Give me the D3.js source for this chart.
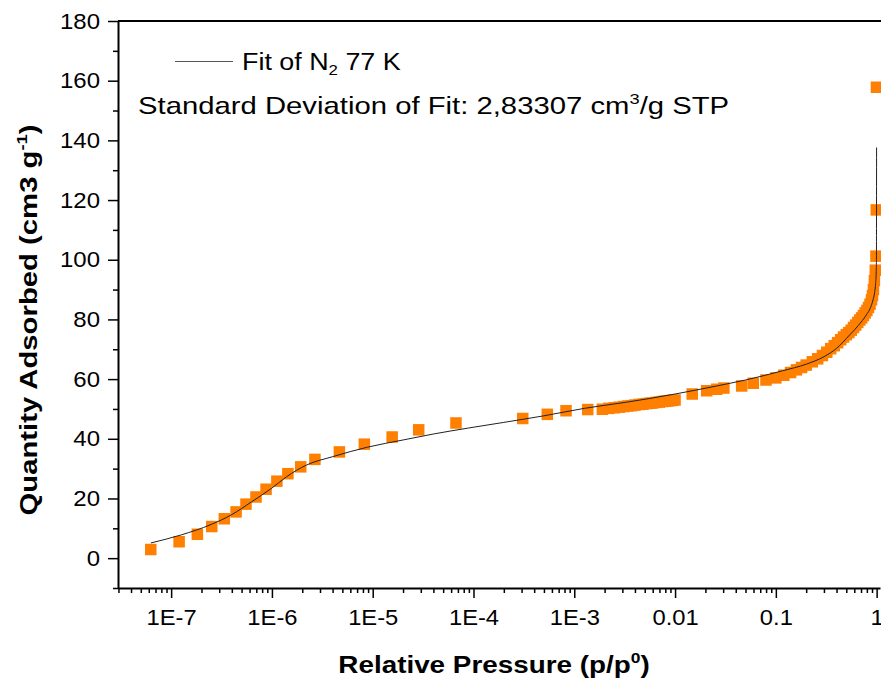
<!DOCTYPE html>
<html>
<head>
<meta charset="utf-8">
<script src="https://cdn.jsdelivr.net/npm/d3@7"></script>
<style>
  body { margin: 0; background: #fff; }
  svg { display: block; font-family: "Liberation Sans", Arial, sans-serif; }
</style>
</head>
<body>
<div id="chart"></div>
<script>
// N2 77 K isotherm with fit, log pressure axis

const width = 881,
    height = 680;

// measured points (relative pressure, quantity adsorbed)
const pressure = [
  6.28e-8, 1.20e-7, 1.82e-7, 2.53e-7, 3.37e-7, 4.41e-7, 5.53e-7, 6.95e-7, 8.75e-7,
  1.12e-6, 1.44e-6, 1.93e-6, 2.67e-6, 4.67e-6, 8.26e-6, 1.56e-5, 2.86e-5, 6.70e-5,
  3.08e-4, 5.40e-4, 8.28e-4, 1.36e-3,
  0.0019, 0.0022, 0.0025, 0.0028, 0.0031, 0.0034, 0.0037, 0.0040, 0.0044, 0.0048,
  0.0052, 0.0056, 0.0060, 0.0065, 0.0070, 0.0075, 0.0080, 0.0085, 0.0090, 0.0095, 0.0100,
  0.0148, 0.0206, 0.0259, 0.0305, 0.0458, 0.0597, 0.0798,
  0.10, 0.12, 0.14, 0.16, 0.18, 0.20, 0.23, 0.26, 0.29, 0.32, 0.35, 0.38, 0.41, 0.44,
  0.47, 0.50, 0.53, 0.56, 0.59, 0.62, 0.65, 0.68, 0.71, 0.74, 0.77, 0.80, 0.83, 0.86,
  0.89, 0.91, 0.93, 0.95, 0.97, 0.985, 0.992, 0.996
];
const quantity = [
  2.9, 5.5, 8.0, 10.6, 13.2, 15.5, 18.1, 20.5, 23.1,
  25.8, 28.3, 30.6, 33.1, 35.6, 38.2, 40.6, 43.0, 45.3,
  46.8, 48.2, 49.4, 49.8,
  49.9, 50.2, 50.4, 50.6, 50.8, 51.0, 51.1, 51.3, 51.5, 51.6,
  51.8, 51.9, 52.0, 52.2, 52.3, 52.5, 52.6, 52.7, 52.8, 52.9, 53.0,
  55.0, 56.1, 56.6, 57.0, 57.7, 58.6, 59.7,
  60.4, 61.3, 62.2, 63.1, 63.9, 64.7, 65.8, 66.8, 67.9, 69.0, 70.2, 71.2, 72.2, 73.2,
  74.1, 74.9, 75.6, 76.4, 77.3, 78.1, 79.0, 79.8, 80.5, 81.3, 82.2, 83.0, 84.0, 85.1,
  86.6, 88.0, 90.0, 93.0, 96.5, 101.2, 116.7, 157.8
];

// fitted curve
const fitPressure = [
  6.3e-8, 1.26e-7, 2.5e-7, 4.0e-7, 6.3e-7, 1.0e-6, 1.4e-6, 2.2e-6, 4.0e-6, 8.9e-6,
  2.0e-5, 4.0e-5, 8.9e-5, 2.0e-4, 5.0e-4, 1.26e-3, 3.2e-3, 5.6e-3, 0.01, 0.025,
  0.05, 0.117, 0.2, 0.3, 0.4, 0.54, 0.66, 0.79, 0.87, 0.92, 0.955, 0.977, 0.991, 0.9954, 0.9989
];
const fitQuantity = [
  5.1, 7.8, 11.3, 14.6, 18.9, 23.5, 27.3, 31.2, 34.0, 37.2,
  39.6, 41.6, 43.6, 45.5, 47.7, 50.2, 52.2, 53.5, 55.0, 57.6,
  59.7, 62.8, 65.0, 67.5, 70.3, 74.8, 78.0, 81.5, 84.0, 86.5, 89.0, 92.0, 96.0, 100.0, 137.6
];

// axis ticks
const xTickValues = [1e-7, 1e-6, 1e-5, 1e-4, 1e-3, 0.01, 0.1, 1];
const xTickLabels = ["1E-7", "1E-6", "1E-5", "1E-4", "1E-3", "0.01", "0.1", "1"];
const yTickValues = [0, 20, 40, 60, 80, 100, 120, 140, 160, 180];
const yMinorValues = [-10, 10, 30, 50, 70, 90, 110, 130, 150, 170];

const plotLeft = 118, plotRight = 880, plotTop = 21, plotBottom = 588;

const x = d3.scaleLog()
  .domain([2.97e-8, 1.08])
  .range([plotLeft, plotRight]);

const y = d3.scaleLinear()
  .domain([-10, 180])
  .range([plotBottom, plotTop]);

// minor log ticks 2..9 per decade
const xMinorValues = [];
for (let e = -8; e <= 0; e++) {
  for (let k = 2; k <= 9; k++) {
    const v = k * Math.pow(10, e);
    if (v >= x.domain()[0] && v <= x.domain()[1]) xMinorValues.push(v);
  }
}

let svg = d3.select("#chart")
  .append("svg")
    .attr("width", width)
    .attr("height", height);

// minor ticks
svg.append("g")
    .attr("transform", `translate(0, ${plotBottom})`)
    .call(d3.axisBottom(x).tickValues(xMinorValues).tickSize(5).tickFormat(""))
    .call(g => g.select(".domain").remove())
    .selectAll("line").attr("stroke-width", 1.5);

svg.append("g")
    .attr("transform", `translate(${plotLeft}, 0)`)
    .call(d3.axisLeft(y).tickValues(yMinorValues).tickSize(5).tickFormat(""))
    .call(g => g.select(".domain").remove())
    .selectAll("line").attr("stroke-width", 1.5);

// major x axis
const xAxis = svg.append("g")
    .attr("transform", `translate(0, ${plotBottom})`)
    .call(d3.axisBottom(x)
      .tickValues(xTickValues)
      .tickSize(10)
      .tickSizeOuter(0)
      .tickPadding(11)
      .tickFormat((d, i) => xTickLabels[i]));
xAxis.select(".domain").attr("stroke-width", 2);
xAxis.selectAll("line").attr("stroke-width", 1.5);
xAxis.selectAll("text")
    .attr("font-size", 22)
    .attr("fill", "#000")
    .attr("transform", "scale(1.08,1)")
    .attr("x", 0);

// major y axis
const yAxis = svg.append("g")
    .attr("transform", `translate(${plotLeft}, 0)`)
    .call(d3.axisLeft(y)
      .tickValues(yTickValues)
      .tickSize(10)
      .tickSizeOuter(0)
      .tickPadding(8));
yAxis.select(".domain").attr("stroke-width", 2);
yAxis.selectAll("line").attr("stroke-width", 1.5);
yAxis.selectAll("text")
    .attr("font-size", 22)
    .attr("fill", "#000")
    .attr("x", null)
    .attr("transform", "translate(-18,0) scale(1.09,1)");

// top frame line
svg.append("line")
    .attr("x1", plotLeft).attr("x2", width)
    .attr("y1", plotTop).attr("y2", plotTop)
    .attr("stroke", "#000")
    .attr("stroke-width", 2);

// data squares
const sq = 11.5;
svg.append("g")
  .selectAll("rect")
  .data(pressure.map((p, i) => [p, quantity[i]]))
  .join("rect")
    .attr("x", d => x(d[0]) - sq / 2)
    .attr("y", d => y(d[1]) - sq / 2)
    .attr("width", sq)
    .attr("height", sq)
    .attr("fill", "#FF7F00");

// fit line
const line = d3.line()
  .x(d => x(d[0]))
  .y(d => y(d[1]))
  .curve(d3.curveMonotoneX);

svg.append("path")
    .datum(fitPressure.map((p, i) => [p, fitQuantity[i]]))
    .attr("d", line)
    .attr("fill", "none")
    .attr("stroke", "#222")
    .attr("stroke-width", 1);

// legend
svg.append("line")
    .attr("x1", 175).attr("x2", 233)
    .attr("y1", 61.5).attr("y2", 61.5)
    .attr("stroke", "#555")
    .attr("stroke-width", 1);

const leg1 = svg.append("text")
    .attr("transform", "translate(242,70) scale(1.12,1)")
    .attr("font-size", 24);
leg1.append("tspan").text("Fit of N");
leg1.append("tspan").attr("font-size", 15).attr("dy", 5).text("2");
leg1.append("tspan").attr("dy", -5).text(" 77 K");

const leg2 = svg.append("text")
    .attr("transform", "translate(138,114) scale(1.22,1)")
    .attr("font-size", 24);
leg2.append("tspan").text("Standard Deviation of Fit: 2,83307 cm");
leg2.append("tspan").attr("font-size", 15).attr("dy", -10).text("3");
leg2.append("tspan").attr("dy", 10).text("/g STP");

// axis titles
const xt = svg.append("text")
    .attr("transform", "translate(494,673) scale(1.16,1)")
    .attr("text-anchor", "middle")
    .attr("font-size", 24)
    .attr("font-weight", "bold");
xt.append("tspan").text("Relative Pressure (p/p");
xt.append("tspan").attr("font-size", 15).attr("dy", -10).text("0");
xt.append("tspan").attr("dy", 10).text(")");

const yt = svg.append("text")
    .attr("transform", "translate(37,320) rotate(-90) scale(1.22,1)")
    .attr("text-anchor", "middle")
    .attr("font-size", 24)
    .attr("font-weight", "bold");
yt.append("tspan").text("Quantity Adsorbed (cm3 g");
yt.append("tspan").attr("font-size", 15).attr("dy", -10).text("-1");
yt.append("tspan").attr("dy", 10).text(")");
</script>
</body>
</html>
